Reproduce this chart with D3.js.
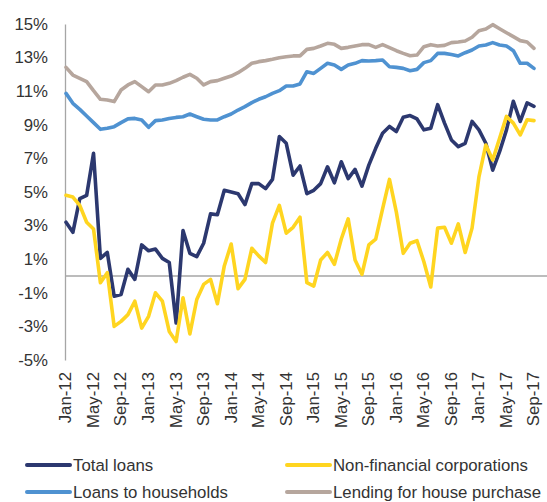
<!DOCTYPE html>
<html>
<head>
<meta charset="utf-8">
<script src="https://cdn.jsdelivr.net/npm/d3@7"></script>
<style>
  html, body { margin: 0; padding: 0; background: #fff; }
  svg { display: block; }
  text { font-family: "Liberation Sans", Arial, sans-serif; fill: #333; }
</style>
</head>
<body>
<div id="chart"></div>
<script>
const months = [
  "Jan-12","Feb-12","Mar-12","Apr-12","May-12","Jun-12","Jul-12","Aug-12","Sep-12","Oct-12","Nov-12","Dec-12",
  "Jan-13","Feb-13","Mar-13","Apr-13","May-13","Jun-13","Jul-13","Aug-13","Sep-13","Oct-13","Nov-13","Dec-13",
  "Jan-14","Feb-14","Mar-14","Apr-14","May-14","Jun-14","Jul-14","Aug-14","Sep-14","Oct-14","Nov-14","Dec-14",
  "Jan-15","Feb-15","Mar-15","Apr-15","May-15","Jun-15","Jul-15","Aug-15","Sep-15","Oct-15","Nov-15","Dec-15",
  "Jan-16","Feb-16","Mar-16","Apr-16","May-16","Jun-16","Jul-16","Aug-16","Sep-16","Oct-16","Nov-16","Dec-16",
  "Jan-17","Feb-17","Mar-17","Apr-17","May-17","Jun-17","Jul-17","Aug-17","Sep-17"
];

const xTickLabels = ["Jan-12","May-12","Sep-12","Jan-13","May-13","Sep-13","Jan-14","May-14","Sep-14",
  "Jan-15","May-15","Sep-15","Jan-16","May-16","Sep-16","Jan-17","May-17","Sep-17"];

const yTicks = [-5, -3, -1, 1, 3, 5, 7, 9, 11, 13, 15];

const totalLoans = [
  3.2, 2.6, 4.6, 4.8, 7.3, 1.05, 1.4, -1.2, -1.1, 0.4, -0.2, 1.85,
  1.5, 1.6, 1.05, 0.8, -2.8, 2.7, 1.35, 1.15, 1.95, 3.7, 3.65, 5.1,
  5.0, 4.9, 4.25, 5.5, 5.5, 5.2, 5.75, 8.3, 7.9, 6.0, 6.55, 4.9,
  5.1, 5.5, 6.5, 5.55, 6.8, 5.8, 6.35, 5.35, 6.6, 7.6, 8.5, 8.9,
  8.6, 9.45, 9.55, 9.35, 8.7, 8.8, 10.2, 9.1, 8.1, 7.7, 7.9, 9.2,
  8.7, 7.9, 6.3, 7.4, 8.7, 10.4, 9.2, 10.3, 10.1
];

const nonFinancial = [
  4.8, 4.7, 4.2, 3.2, 2.8, -0.4, 0.2, -3.0, -2.7, -2.3, -1.5, -3.1,
  -2.4, -1.0, -1.5, -3.3, -3.9, -1.3, -3.45, -1.4, -0.5, -0.2, -1.65, 0.6,
  1.9, -0.75, -0.2, 1.65, 1.2, 0.8, 3.15, 4.2, 2.55, 2.9, 3.5, -0.4,
  -0.6, 0.95, 1.4, 0.7, 2.2, 3.4, 0.95, 0.1, 1.85, 2.2, 4.0, 5.75,
  3.8, 1.35, 1.95, 2.1, 0.85, -0.65, 2.85, 2.9, 1.95, 3.1, 1.4, 2.85,
  5.9, 7.8, 6.9, 8.2, 9.5, 9.1, 8.4, 9.3, 9.25
];

const households = [
  10.87, 10.28, 9.92, 9.52, 9.13, 8.73, 8.79, 8.89, 9.13, 9.35, 9.38, 9.29,
  8.85, 9.25, 9.29, 9.38, 9.44, 9.48, 9.64, 9.48, 9.33, 9.29, 9.29, 9.48,
  9.64, 9.88, 10.08, 10.32, 10.52, 10.67, 10.87, 11.03, 11.31, 11.31, 11.43, 12.16,
  12.06, 12.36, 12.66, 12.56, 12.30, 12.56, 12.66, 12.82, 12.80, 12.82, 12.86, 12.46,
  12.42, 12.36, 12.22, 12.30, 12.70, 12.82, 13.25, 13.25, 13.19, 13.10, 13.29, 13.45,
  13.69, 13.75, 13.89, 13.75, 13.69, 13.41, 12.66, 12.66, 12.36
];

const housePurchase = [
  12.42, 11.96, 11.77, 11.57, 11.03, 10.52, 10.48, 10.38, 11.07, 11.37, 11.57, 11.27,
  10.97, 11.37, 11.37, 11.47, 11.63, 11.83, 12.0, 11.77, 11.37, 11.57, 11.63, 11.77,
  11.9, 12.1, 12.36, 12.66, 12.76, 12.82, 12.90, 12.99, 13.05, 13.10, 13.1, 13.49,
  13.55, 13.69, 13.85, 13.79, 13.55, 13.61, 13.69, 13.77, 13.77, 13.61, 13.77, 13.59,
  13.41, 13.25, 13.11, 13.15, 13.65, 13.77, 13.69, 13.73, 13.89, 13.93, 13.99, 14.21,
  14.6, 14.7, 14.96, 14.72, 14.48, 14.25, 14.01, 13.93, 13.55
];

const seriesNames = ["Total loans", "Non-financial corporations", "Loans to households", "Lending for house purchase"];
const seriesColors = ["#2c386f", "#ffd520", "#4f92d1", "#b6a69d"];
const seriesData = [totalLoans, nonFinancial, households, housePurchase];

const W = 547, H = 502;
const FS = "16.8px";
const svg = d3.select("#chart").append("svg").attr("width", W).attr("height", H);

const x = d3.scalePoint().domain(months).range([66, 534]);
const y = d3.scaleLinear().domain([-5, 15]).range([360, 24]);

// zero line
svg.append("line")
  .attr("x1", 65).attr("x2", 547)
  .attr("y1", y(0)).attr("y2", y(0))
  .attr("stroke", "#a6a6a6").attr("stroke-width", 1.3);

// y axis
const yAxis = d3.axisLeft(y).tickValues(yTicks).tickSize(0).tickPadding(17)
  .tickFormat(d => d + "%");
const gy = svg.append("g").attr("transform", "translate(65,0)").call(yAxis);
gy.select(".domain").attr("stroke", "#a6a6a6").attr("stroke-width", 1.3);
gy.selectAll("text").style("font-size", FS).attr("fill", "#333")
  .style("font-family", "'Liberation Sans', Arial, sans-serif");

// x axis labels
const xAxis = d3.axisBottom(x).tickValues(xTickLabels).tickSize(0).tickPadding(0);
const gx = svg.append("g").attr("transform", "translate(0,368)").call(xAxis);
gx.select(".domain").remove();
gx.selectAll("text")
  .style("font-size", FS).attr("fill", "#333")
  .style("font-family", "'Liberation Sans', Arial, sans-serif")
  .attr("text-anchor", "end")
  .attr("dy", "0.35em")
  .attr("x", -4).attr("y", -1)
  .attr("transform", "rotate(-90)");

// lines
const line = d3.line().x((d, i) => x(months[i])).y(d => y(d));
seriesData.forEach((s, k) => {
  svg.append("path")
    .datum(s)
    .attr("d", line)
    .attr("fill", "none")
    .attr("stroke", seriesColors[k])
    .attr("stroke-width", 3.6)
    .attr("stroke-linejoin", "round")
    .attr("stroke-linecap", "round");
});

// legend
const legendPos = [[27, 465], [287, 465], [27, 492], [287, 492]];
seriesNames.forEach((name, k) => {
  const [lx, ly] = legendPos[k];
  svg.append("line")
    .attr("x1", lx).attr("x2", lx + 43)
    .attr("y1", ly).attr("y2", ly)
    .attr("stroke", seriesColors[k]).attr("stroke-width", 4)
    .attr("stroke-linecap", "round");
  svg.append("text")
    .attr("x", lx + 46).attr("y", ly)
    .attr("dy", "0.35em")
    .style("font-size", FS)
    .text(name);
});
</script>
</body>
</html>
